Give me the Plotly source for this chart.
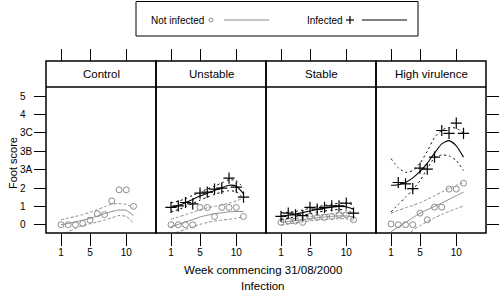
import plotly.graph_objects as go

# ---------------- data ----------------
weeks = [1, 2, 3, 4, 5, 6, 7, 8, 9, 10, 11]
panels = ["Control", "Unstable", "Stable", "High virulence"]
y_tick_vals = [0, 1, 2, 3, 4, 5, 6, 7]
y_tick_text = ["0", "1", "2", "3A", "3B", "3C", "4", "5"]
x_tick_vals = [1, 5, 10]

# Not infected (grey circles) + loess fit and band
ctrl_not = [0, 0, 0, 0.07, 0.25, 0.6, 0.55, 1.3, 1.9, 1.9, 1.0]
ctrl_not_fit = [0.0, 0.07, 0.15, 0.25, 0.35, 0.47, 0.6, 0.72, 0.8, 0.78, 0.5]
ctrl_not_hi = [0.27, 0.36, 0.45, 0.55, 0.68, 0.82, 0.98, 1.12, 1.15, 1.1, 0.92]
ctrl_not_lo = [-0.6, -0.38, -0.2, -0.05, 0.05, 0.15, 0.25, 0.38, 0.5, 0.45, 0.1]

uns_not = [0, 0, 0, 0, 0.94, 0.94, 0.45, 0.94, 0.94, 0.94, 0.45]
uns_not_fit = [-0.1, 0.02, 0.15, 0.28, 0.42, 0.52, 0.6, 0.65, 0.7, 0.72, 0.72]
uns_not_hi = [0.3, 0.42, 0.55, 0.68, 0.82, 0.92, 1.0, 1.08, 1.18, 1.3, 1.45]
uns_not_lo = [-0.5, -0.38, -0.25, -0.12, 0.02, 0.12, 0.2, 0.25, 0.3, 0.35, 0.45]

stb_not = [0.13, 0.2, 0.2, 0.13, 0.45, 0.4, 0.4, 0.45, 0.54, 0.54, 0.27]
stb_not_fit = [0.13, 0.17, 0.22, 0.28, 0.33, 0.38, 0.42, 0.46, 0.48, 0.48, 0.42]
stb_not_hi = [0.28, 0.3, 0.34, 0.4, 0.45, 0.5, 0.55, 0.6, 0.63, 0.64, 0.6]
stb_not_lo = [-0.02, 0.04, 0.1, 0.16, 0.21, 0.26, 0.29, 0.32, 0.33, 0.32, 0.24]

hv_not = [0.04, 0, 0, 0, 0.63, 0.27, 0.96, 0.96, 1.94, 1.94, 2.26]
hv_not_fit = [-0.38, -0.12, 0.12, 0.38, 0.63, 0.82, 1.0, 1.18, 1.38, 1.58, 1.78]
hv_not_hi = [0.62, 0.78, 0.92, 1.05, 1.2, 1.38, 1.58, 1.78, 1.98, 2.15, 2.3]
hv_not_lo = [-1.2, -0.95, -0.7, -0.3, -0.05, 0.17, 0.38, 0.55, 0.72, 0.88, 1.02]

# Infected (black plus) + loess fit and band
uns_inf = [0.94, 1.03, 1.21, 1.14, 1.72, 1.78, 1.94, 1.99, 2.54, 2.05, 1.5]
uns_inf_fit = [0.95, 1.05, 1.2, 1.38, 1.56, 1.72, 1.87, 2.02, 2.15, 2.1, 1.7]
uns_inf_hi = [1.2, 1.28, 1.42, 1.6, 1.78, 1.95, 2.1, 2.28, 2.45, 2.4, 2.0]
uns_inf_lo = [0.7, 0.82, 0.98, 1.16, 1.34, 1.5, 1.65, 1.78, 1.85, 1.8, 1.4]

stb_inf = [0.45, 0.63, 0.54, 0.5, 0.94, 0.85, 0.94, 1.03, 1.03, 1.18, 0.63]
stb_inf_fit = [0.48, 0.52, 0.58, 0.66, 0.75, 0.83, 0.9, 0.96, 1.0, 0.98, 0.85]
stb_inf_hi = [0.65, 0.68, 0.72, 0.8, 0.9, 0.98, 1.05, 1.12, 1.17, 1.17, 1.08]
stb_inf_lo = [0.3, 0.36, 0.44, 0.52, 0.6, 0.68, 0.75, 0.8, 0.83, 0.8, 0.62]

hv_inf = [None, 2.3, 2.22, 1.97, 3.08, 3.03, 3.68, 5.13, 4.98, 5.53, 4.98]
hv_inf_fit = [2.15, 2.18, 2.3, 2.55, 2.9, 3.35, 3.9, 4.4, 4.58, 4.3, 3.68]
hv_inf_hi = [3.6, 3.1, 2.85, 2.95, 3.35, 4.0, 4.75, 5.15, 5.3, 5.25, 5.0]
hv_inf_lo = [0.7, 1.1, 1.5, 1.9, 2.4, 3.05, 3.65, 3.8, 3.75, 3.5, 2.95]

not_series = [
    (ctrl_not, ctrl_not_fit, ctrl_not_hi, ctrl_not_lo),
    (uns_not, uns_not_fit, uns_not_hi, uns_not_lo),
    (stb_not, stb_not_fit, stb_not_hi, stb_not_lo),
    (hv_not, hv_not_fit, hv_not_hi, hv_not_lo),
]
inf_series = [
    None,
    (uns_inf, uns_inf_fit, uns_inf_hi, uns_inf_lo),
    (stb_inf, stb_inf_fit, stb_inf_hi, stb_inf_lo),
    (hv_inf, hv_inf_fit, hv_inf_hi, hv_inf_lo),
]

# ---------------- layout geometry (pixels) ----------------
W, H = 500, 291
L, R, T, B = 46, 486, 61, 233
STRIP_BOT = 87
PW, PH = R - L, B - T


def px(x):
    return (x - L) / PW


def py(y):
    return (B - y) / PH


YTOP = py(STRIP_BOT)
GREY = "#8c8c8c"
FONT = "Liberation Sans, Arial, sans-serif"
XR = [-1.07, 14.1]
YR = [-0.45, 7.5]

fig = go.Figure()

for i in range(4):
    xa = "x" if i == 0 else f"x{i+1}"
    obs, fit, hi, lo = not_series[i]
    for band in (hi, lo):
        fig.add_trace(go.Scatter(x=weeks, y=band, mode="lines", xaxis=xa, yaxis="y",
                                 line=dict(color=GREY, width=1, dash="3px,2px", shape="spline", smoothing=0.6),
                                 showlegend=False, hoverinfo="skip"))
    fig.add_trace(go.Scatter(x=weeks, y=fit, mode="lines", xaxis=xa, yaxis="y",
                             line=dict(color=GREY, width=1, shape="spline", smoothing=0.6),
                             showlegend=False, hoverinfo="skip"))
    fig.add_trace(go.Scatter(x=weeks, y=obs, mode="markers", xaxis=xa, yaxis="y",
                             marker=dict(symbol="circle-open", size=6, color=GREY, line=dict(width=1, color=GREY)),
                             showlegend=False))
    if inf_series[i] is not None:
        obs, fit, hi, lo = inf_series[i]
        for band in (hi, lo):
            fig.add_trace(go.Scatter(x=weeks, y=band, mode="lines", xaxis=xa, yaxis="y",
                                     line=dict(color="black", width=1, dash="2px,3px", shape="spline", smoothing=0.6),
                                     showlegend=False, hoverinfo="skip"))
        fig.add_trace(go.Scatter(x=weeks, y=fit, mode="lines", xaxis=xa, yaxis="y",
                                 line=dict(color="black", width=1.1, shape="spline", smoothing=0.6),
                                 showlegend=False, hoverinfo="skip"))
        fig.add_trace(go.Scatter(x=weeks, y=obs, mode="markers", xaxis=xa, yaxis="y",
                                 marker=dict(symbol="cross-thin", size=8, color="black",
                                             line=dict(width=1.2, color="black")),
                                 showlegend=False))

# dummy traces for the top tick axes and right tick axis
for i in range(4):
    fig.add_trace(go.Scatter(x=[None], y=[None], xaxis=f"x{i+5}", yaxis="y", showlegend=False))
fig.add_trace(go.Scatter(x=[None], y=[None], xaxis="x4", yaxis="y2", showlegend=False))

tickfont = dict(family=FONT, size=10, color="black")
layout = dict(
    width=W, height=H,
    margin=dict(l=L, r=W - R, t=T, b=H - B, pad=0, autoexpand=False),
    paper_bgcolor="white", plot_bgcolor="white",
    showlegend=False,
    font=dict(family=FONT, color="black"),
)
for i in range(4):
    key = "xaxis" if i == 0 else f"xaxis{i+1}"
    layout[key] = dict(domain=[i * 0.25, (i + 1) * 0.25], range=XR, anchor="y",
                       tickvals=x_tick_vals, ticks="outside", ticklen=12, tickwidth=1.2,
                       tickcolor="black", showgrid=False, zeroline=False, showline=False,
                       tickfont=tickfont, ticklabelstandoff=-2, automargin=False)
    base = "x" if i == 0 else f"x{i+1}"
    layout[f"xaxis{i+5}"] = dict(overlaying=base, range=XR, side="top", anchor="free", position=1,
                                 tickvals=x_tick_vals, ticks="outside", ticklen=12, tickwidth=1.2,
                                 tickcolor="black", showticklabels=False, showgrid=False,
                                 zeroline=False, showline=False, automargin=False)
layout["yaxis"] = dict(domain=[0, YTOP], range=YR, anchor="free", position=0,
                       tickvals=y_tick_vals, ticks="outside", ticklen=12, tickwidth=1.2,
                       tickcolor="black", showticklabels=False, showgrid=False,
                       zeroline=False, showline=False, automargin=False)
layout["yaxis2"] = dict(overlaying="y", range=YR, side="right", anchor="free", position=1,
                        tickvals=y_tick_vals, ticks="outside", ticklen=12, tickwidth=1.2,
                        tickcolor="black", showticklabels=False, showgrid=False,
                        zeroline=False, showline=False, automargin=False)
fig.update_layout(**layout)

shapes = []
annotations = []
for i in range(4):
    shapes.append(dict(type="rect", xref="paper", yref="paper", x0=i * 0.25, x1=(i + 1) * 0.25,
                       y0=0, y1=1, line=dict(color="black", width=1.5)))
    annotations.append(dict(text=panels[i], xref="paper", yref="paper", x=i * 0.25 + 0.125,
                            y=(YTOP + 1) / 2, showarrow=False, xanchor="center", yanchor="middle",
                            font=dict(family=FONT, size=11.5, color="black")))
shapes.append(dict(type="line", xref="paper", yref="paper", x0=0, x1=1, y0=YTOP, y1=YTOP,
                   line=dict(color="black", width=1.5)))

for v, t in zip(y_tick_vals, y_tick_text):
    annotations.append(dict(text=t, xref="paper", yref="y", x=px(18), y=v, showarrow=False,
                            xanchor="left", yanchor="middle", font=tickfont))

annotations.append(dict(text="Week commencing 31/08/2000", xref="paper", yref="paper",
                        x=px(262.5), y=py(270), showarrow=False, xanchor="center", yanchor="middle",
                        font=dict(family=FONT, size=11.5, color="black")))
annotations.append(dict(text="Infection", xref="paper", yref="paper",
                        x=px(262.5), y=py(285.5), showarrow=False, xanchor="center", yanchor="middle",
                        font=dict(family=FONT, size=11.5, color="black")))
annotations.append(dict(text="Foot score", xref="paper", yref="paper", textangle=-90,
                        x=px(13), y=py(163), showarrow=False, xanchor="center", yanchor="middle",
                        font=dict(family=FONT, size=11, color="black")))

# legend box
shapes.append(dict(type="rect", xref="paper", yref="paper", x0=px(136), x1=px(418),
                   y0=py(36), y1=py(1.5), line=dict(color="black", width=1)))
LY = 20
annotations.append(dict(text="Not infected", xref="paper", yref="paper", x=px(149), y=py(LY),
                        showarrow=False, xanchor="left", yanchor="middle",
                        font=dict(family=FONT, size=10, color="black")))
shapes.append(dict(type="circle", xref="paper", yref="paper", x0=px(209), x1=px(213),
                   y0=py(LY + 2), y1=py(LY - 2), line=dict(color=GREY, width=1)))
shapes.append(dict(type="line", xref="paper", yref="paper", x0=px(224), x1=px(269),
                   y0=py(LY), y1=py(LY), line=dict(color=GREY, width=1)))
annotations.append(dict(text="Infected", xref="paper", yref="paper", x=px(305), y=py(LY),
                        showarrow=False, xanchor="left", yanchor="middle",
                        font=dict(family=FONT, size=10, color="black")))
shapes.append(dict(type="line", xref="paper", yref="paper", x0=px(346), x1=px(354),
                   y0=py(LY), y1=py(LY), line=dict(color="black", width=1.2)))
shapes.append(dict(type="line", xref="paper", yref="paper", x0=px(350), x1=px(350),
                   y0=py(LY + 4), y1=py(LY - 4), line=dict(color="black", width=1.2)))
shapes.append(dict(type="line", xref="paper", yref="paper", x0=px(362), x1=px(407),
                   y0=py(LY), y1=py(LY), line=dict(color="black", width=1.2)))

fig.update_layout(shapes=shapes, annotations=annotations)
fig.write_html("out.html", config={"displayModeBar": False},
               post_script="document.body.style.margin='0';document.body.style.padding='0';")
